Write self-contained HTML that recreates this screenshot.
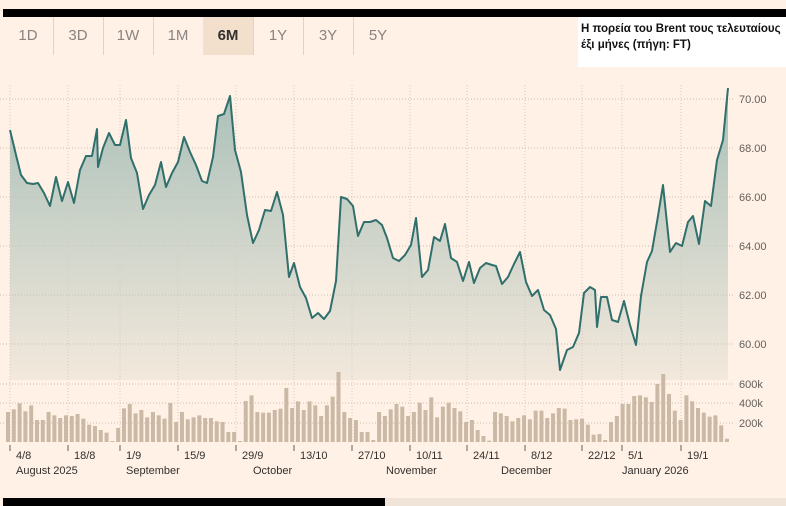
<!DOCTYPE html><html><head><style>
body{margin:0;width:786px;height:506px;background:#fff1e5;overflow:hidden;font-family:"Liberation Sans",sans-serif;position:relative}
.tab{position:absolute;top:17px;height:38px;width:50px;line-height:38px;text-align:center;font-size:15px;color:#8a8480;border-right:1px solid #e0d3c6}
</style></head><body>
<div style="position:absolute;left:3px;top:9px;width:783px;height:8px;background:#000"></div>
<div class="tab" style="left:3px">1D</div><div class="tab" style="left:53px">3D</div><div class="tab" style="left:103px">1W</div><div class="tab" style="left:153px">1M</div><div class="tab" style="left:203px;background:#f2dfcc;color:#33302e;font-weight:bold">6M</div><div class="tab" style="left:253px">1Y</div><div class="tab" style="left:303px">3Y</div><div class="tab" style="left:353px;border:none">5Y</div>
<div style="position:absolute;left:578px;top:17px;width:208px;height:50px;background:#fff;font-size:11.5px;font-weight:bold;color:#111;padding:4px 0 0 3px;box-sizing:border-box;line-height:16px">Η πορεία του Brent τους τελευταίους έξι μήνες (πήγη: FT)</div>
<svg id="s" width="786" height="506" style="position:absolute;left:0;top:0" xmlns="http://www.w3.org/2000/svg"></svg>
<div style="position:absolute;left:3px;top:498px;width:382px;height:8px;background:#000"></div>
<div style="position:absolute;left:385px;top:498px;width:401px;height:8px;background:#f0e4d8"></div>
<script>
var s=document.getElementById('s'),h='<defs><linearGradient id="g" x1="0" y1="0" x2="0" y2="1"><stop offset="0" stop-color="#a9c0b8"/><stop offset="1" stop-color="#f3e8dc"/></linearGradient></defs>';
var P="10,130 16,155 21,175 27,183 33,184 38,183 44,193 50,206 56,177 62,201 68,182 74,203 80,170 86,156 92,156 97,129 98,167 103,148 109,133 115,145 120,145 126,120 131,158 137,173 143,209 149,195 155,185 161,162 166,187 172,173 178,162 184,137 190,152 196,165 202,181 207,183 213,157 218,116 224,114 230,96 235,150 241,172 247,215 253,243 259,230 265,210 271,211 277,192 283,215 289,277 294,263 300,287 306,298 312,318 318,313 324,319 330,311 336,281 341,197 347,199 353,206 358,236 364,222 370,222 376,220 382,225 387,238 393,258 399,261 405,255 411,245 416,218 422,277 428,270 434,237 440,241 445,224 451,258 457,262 463,281 469,262 474,283 480,268 486,263 492,265 496,266 502,284 508,277 514,264 520,252 526,282 532,296 538,290 544,310 550,315 556,329 560,370 567,350 573,347 579,333 584,293 590,287 595,290 597,327 601,297 607,297 612,320 618,322 624,301 630,325 636,345 641,296 647,262 652,251 658,216 663,185 670,252 676,243 682,246 688,222 693,216 699,244 705,201 711,206 717,160 723,140 728,88";
h+='<polygon points="10,380 '+P+' 728,380" fill="url(#g)"/>';
[99,148,197,246,295,344].forEach(function(y,i){h+='<line x1="0" x2="735" y1="'+y+'" y2="'+y+'" stroke="#c9bfb5" stroke-dasharray="1,2"/><text x="739" y="'+(y+4)+'" font-size="11" fill="#66605c">'+(70-2*i)+'.00</text>'});
[[384,'600k'],[403,'400k'],[423,'200k']].forEach(function(a){h+='<line x1="0" x2="735" y1="'+a[0]+'" y2="'+a[0]+'" stroke="#c9bfb5" stroke-dasharray="1,2"/><text x="739" y="'+(a[0]+4)+'" font-size="11" fill="#66605c">'+a[1]+'</text>'});
var T=[[10,'4/8'],[68,'18/8'],[120,'1/9'],[178,'15/9'],[236,'29/9'],[294,'13/10'],[352,'27/10'],[410,'10/11'],[467,'24/11'],[525,'8/12'],[582,'22/12'],[622,'5/1'],[681,'19/1']];
T.forEach(function(t){h+='<line x1="'+t[0]+'" x2="'+t[0]+'" y1="85" y2="442" stroke="#d6ccc2" stroke-dasharray="1,2"/><line x1="'+t[0]+'" x2="'+t[0]+'" y1="445" y2="451" stroke="#66605c"/><text x="'+(t[0]+6)+'" y="459" font-size="11" fill="#33302e">'+t[1]+'</text>'});
[[16,'August 2025'],[126,'September'],[253,'October'],[386,'November'],[501,'December'],[622,'January 2026']].forEach(function(m){h+='<text x="'+m[0]+'" y="474" font-size="11" fill="#33302e">'+m[1]+'</text>'});
var V=[128,120,102,126,108,152,152,128,138,146,138,140,134,148,166,170,182,190,215,176,117,104,132,122,144,128,138,148,101,158,128,150,144,138,146,146,156,158,188,188,215,95,78,128,130,130,122,118,56,116,96,122,96,108,140,108,82,8,128,146,152,188,188,212,128,140,120,104,112,140,128,100,122,84,144,112,100,116,126,158,152,182,200,214,128,132,140,156,146,138,150,124,124,146,132,116,118,152,150,148,166,196,194,212,158,140,104,104,80,78,84,98,44,14,74,124,152,78,96,116,130,142,138,168,208];
var n=V.length;V.forEach(function(t,i){var x=8+i*(719/(n-1)),ht=(218-t)/3;h+='<rect x="'+(x-2)+'" y="'+(442-ht)+'" width="4" height="'+ht+'" fill="#cbb9a6"/>'});
h+='<polyline points="'+P+'" fill="none" stroke="#2f6f6c" stroke-width="2" stroke-linejoin="round"/>';
s.innerHTML=h;
</script></body></html>
